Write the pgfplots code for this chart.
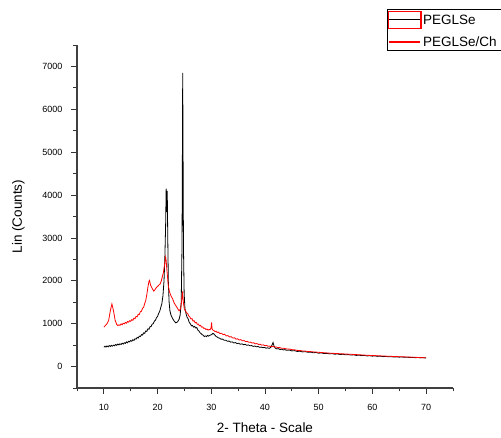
\documentclass[border=0pt]{standalone}
\usepackage{fontspec}
\setmainfont{Liberation Sans}
\usepackage{pgfplots}
\pgfplotsset{compat=1.18}
\begin{document}
\begin{tikzpicture}
\begin{axis}[
  at={(77pt,50pt)}, anchor=south west,
  scale only axis, width=376pt, height=343pt,
  xmin=5, xmax=75, ymin=-500, ymax=7500,
  axis x line*=bottom, axis y line*=left,
  axis line style={line width=1.1pt, black!75},
  xtick={10,20,...,70}, minor xtick={5,15,...,75},
  ytick={0,1000,...,7000}, minor ytick={-500,500,...,7500},
  tick align=outside,
  major tick length=6pt, minor tick length=3.5pt,
  every tick/.style={black!80, line width=0.8pt},
  tick label style={font=\fontsize{9}{10}\selectfont},
  xticklabel style={yshift=-7pt},
  yticklabel style={xshift=-5pt},
  /pgf/number format/assume math mode=true,
  /pgf/number format/1000 sep={},
  xlabel={2- Theta - Scale},
  ylabel={Lin (Counts)},
  label style={font=\fontsize{13.5}{15}\selectfont},
  xlabel style={at={(axis description cs:0.5,-0.1166)}, anchor=center},
  ylabel style={at={(axis description cs:-0.1556,0.5)}, anchor=center},
  clip=false,
]
\addplot[black, line width=0.8pt]
coordinates {
(10.0,450)(10.2,475)(10.4,455)(10.6,480)(10.8,460)(11.0,490)(11.2,470)(11.4,495)
(11.6,475)(11.8,500)(12.0,485)(12.2,515)(12.4,495)(12.6,525)(12.8,505)(13.0,530)
(13.2,515)(13.4,545)(13.6,525)(13.8,555)(14.0,540)(14.2,575)(14.4,555)(14.6,590)
(14.8,575)(15.0,610)(15.2,590)(15.4,625)(15.6,610)(15.8,650)(16.0,640)(16.2,680)
(16.4,665)(16.6,710)(16.8,700)(17.0,745)(17.2,735)(17.4,785)(17.6,775)(17.8,830)
(18.0,820)(18.2,880)(18.4,870)(18.6,930)(18.8,935)(19.0,990)(19.2,1000)(19.4,1060)
(19.6,1080)(19.8,1140)(20.0,1170)(20.2,1240)(20.4,1290)(20.6,1380)(20.8,1470)
(21.0,1650)(21.2,2000)(21.35,2500)(21.5,3300)(21.6,4150)(21.7,3600)(21.8,4100)
(21.9,3000)(22.0,2000)(22.15,1500)(22.3,1300)(22.5,1200)(22.8,1120)(23.1,1060)
(23.4,1020)(23.7,1040)(24.0,1100)(24.2,1200)(24.4,1500)(24.55,2800)(24.62,4860)
(24.68,6850)(24.75,4860)(24.82,2800)(24.95,1700)
(25.1,1350)(25.3,1230)(25.5,1150)(25.7,1110)(25.9,1030)(26.1,1000)(26.3,950)(26.5,960)
(26.7,920)(26.9,935)(27.1,900)(27.3,910)(27.5,850)(27.7,830)(27.9,790)(28.1,770)
(28.3,745)(28.5,730)(28.7,700)(28.9,715)(29.1,700)(29.3,725)(29.5,710)(29.7,730)
(29.9,735)(30.1,750)(30.3,775)(30.5,760)(30.7,730)(30.9,700)(31.1,690)(31.3,670)
(31.5,665)(31.8,640)(32.1,640)(32.4,615)(32.7,615)(33.0,590)(33.3,595)(33.6,570)
(33.9,575)(34.2,550)(34.5,560)(34.8,535)(35.1,545)(35.4,520)(35.7,530)(36.0,510)
(36.3,520)(36.6,495)(36.9,505)(37.2,485)(37.5,490)(37.8,470)(38.1,480)(38.4,460)
(38.7,468)(39.0,448)(39.3,455)(39.6,440)(39.9,446)(40.2,428)(40.5,436)(40.8,425)
(41.1,450)(41.3,500)(41.5,560)(41.7,470)(41.9,430)(42.2,412)(42.5,418)(42.8,398)
(43.1,405)(43.4,388)(43.7,395)(44.0,380)(44.5,385)(45.0,365)(45.5,372)(46,352)
(46.5,358)(47,342)(47.5,348)(48,332)(48.5,338)(49,322)(49.5,328)(50,312)(50.5,318)
(51,303)(51.5,308)(52,296)(52.5,302)(53,288)(53.5,294)(54,282)(54.5,287)(55,275)
(55.5,280)(56,268)(56.5,274)(57,260)(57.5,266)(58,255)(58.5,260)(59,248)(59.5,253)
(60,243)(60.5,248)(61,238)(61.5,242)(62,232)(62.5,237)(63,228)(63.5,232)(64,222)
(64.5,227)(65,220)(65.5,223)(66,215)(66.5,219)(67,211)(67.5,215)(68,207)(68.5,211)
(69,203)(69.5,206)(70,200)
};
\addplot[red, line width=0.8pt]
coordinates {
(10.0,920)(10.3,960)(10.6,1000)(10.9,1080)(11.2,1300)(11.5,1460)(11.8,1300)(12.1,1080)
(12.4,980)(12.6,955)(12.8,975)(13.0,960)(13.2,995)(13.4,975)(13.6,1010)(13.8,995)
(14.0,1030)(14.2,1010)(14.4,1050)(14.6,1035)(14.8,1070)(15.0,1055)(15.2,1095)(15.4,1080)
(15.6,1130)(15.8,1115)(16.0,1170)(16.2,1160)(16.4,1220)(16.6,1215)(16.8,1280)(17.0,1290)
(17.2,1360)(17.4,1380)(17.6,1470)(17.8,1540)(18.0,1680)(18.2,1850)(18.4,1990)(18.5,2010)
(18.7,1900)(18.9,1850)(19.1,1800)(19.3,1760)(19.5,1790)(19.7,1830)(19.9,1860)(20.1,1880)
(20.3,1910)(20.5,1930)(20.7,2000)(20.9,2100)(21.1,2200)(21.3,2380)(21.5,2550)(21.6,2470)
(21.7,2300)(21.85,2100)(22.0,1880)(22.2,1750)(22.5,1650)(22.8,1580)(23.1,1480)(23.4,1420)
(23.7,1360)(24.0,1300)(24.3,1350)(24.5,1550)(24.65,1750)(24.8,1500)
(25.0,1330)(25.2,1300)(25.4,1250)(25.6,1240)(25.8,1180)(26.0,1160)(26.2,1110)(26.4,1120)
(26.6,1060)(26.8,1070)(27.0,1020)(27.2,1030)(27.4,985)(27.6,990)(27.8,950)(28.0,960)
(28.2,920)(28.4,925)(28.6,890)(28.8,895)(29.0,865)(29.2,875)(29.4,850)(29.6,862)
(29.8,860)(29.95,900)(30.05,1030)(30.15,880)(30.3,850)(30.5,840)(30.7,815)(30.9,825)
(31.1,795)(31.3,805)(31.6,770)(31.9,778)(32.2,745)(32.5,752)(32.8,715)(33.1,722)
(33.4,690)(33.7,697)(34.0,665)(34.3,672)(34.6,640)(34.9,648)(35.2,620)(35.5,628)
(35.8,600)(36.1,606)(36.4,582)(36.7,588)(37.0,565)(37.3,570)(37.6,548)(37.9,555)
(38.2,530)(38.5,537)(38.8,515)(39.1,520)(39.4,500)(39.7,506)(40.0,486)(40.3,492)
(40.6,472)(40.9,478)(41.2,462)(41.5,470)(41.8,452)(42.1,458)(42.4,440)(42.7,446)
(43.0,430)(43.5,425)(44.0,412)(44.5,408)(45,395)(45.5,390)(46,378)(46.5,374)
(47,363)(47.5,360)(48,352)(48.5,348)(49,342)(49.5,338)(50,332)(50.5,328)(51,322)
(51.5,318)(52,313)(52.5,310)(53,306)(53.5,302)(54,300)(54.5,296)(55,293)(55.5,289)
(56,286)(56.5,282)(57,279)(57.5,275)(58,271)(58.5,267)(59,263)(59.5,260)(60,258)
(60.5,255)(61,252)(61.5,249)(62,246)(62.5,243)(63,240)(63.5,238)(64,235)(64.5,233)
(65,230)(65.5,228)(66,226)(66.5,223)(67,220)(67.5,218)(68,215)(68.5,212)(69,210)
(69.5,207)(70,205)
};
\end{axis}
% legend (decoration, not data)
\draw[black, line width=0.8pt, fill=white] (387pt,388pt) rectangle (530pt,428.7pt);
\draw[black, line width=1pt] (389pt,418pt) -- (420pt,418pt);
\draw[red, line width=1.1pt] (388.8pt,409.5pt) rectangle (421pt,426.5pt);
\draw[red, line width=1.3pt] (389pt,396pt) -- (420pt,396pt);
\node[anchor=west, inner sep=0pt, font=\fontsize{13.5}{15}\selectfont] at (423pt,418pt) {PEGLSe};
\node[anchor=west, inner sep=0pt, font=\fontsize{13.5}{15}\selectfont] at (423pt,396pt) {PEGLSe/Ch};
\pgfresetboundingbox
\path[use as bounding box] (0,0) rectangle (501pt,438pt);
\end{tikzpicture}
\end{document}
